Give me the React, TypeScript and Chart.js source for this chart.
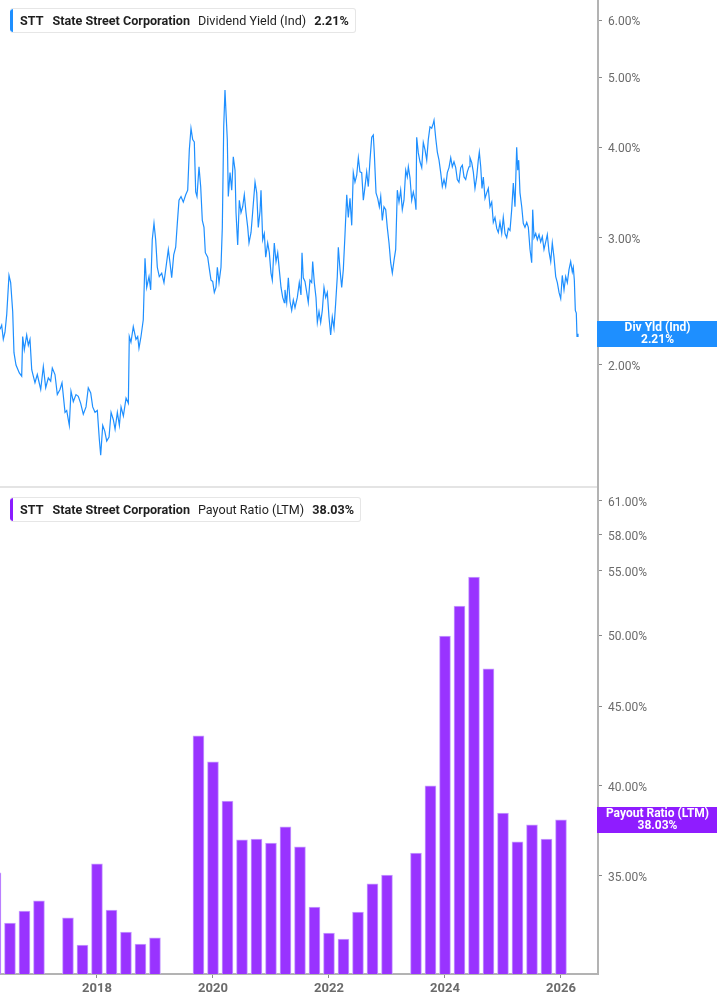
import React, { useEffect, useRef } from "react";
import { Chart, registerables } from "chart.js";

Chart.register(...registerables);

const FONT = "Roboto, 'Noto Sans', Arial, sans-serif";

// ---------- Data ----------
const ticker = "STT";
const companyName = "State Street Corporation";
const yieldLabel = "Dividend Yield (Ind)";
const payoutLabel = "Payout Ratio (LTM)";
const yieldBoxLines = ["Div Yld (Ind)", "2.21%"];
const payoutBoxLines = ["Payout Ratio (LTM)", "38.03%"];
const yieldLast = 2.21;
const payoutLast = 38.03;

const yieldDates = [
  2016.328, 2016.357, 2016.385, 2016.414, 2016.444, 2016.483, 2016.512, 2016.547, 2016.569, 2016.604,
  2016.661, 2016.702, 2016.719, 2016.747, 2016.788, 2016.816, 2016.845, 2016.875, 2016.902, 2016.931,
  2016.971, 2017.030, 2017.075, 2017.116, 2017.161, 2017.202, 2017.230, 2017.276, 2017.316, 2017.362,
  2017.397, 2017.449, 2017.478, 2017.523, 2017.552, 2017.592, 2017.638, 2017.678, 2017.719, 2017.764,
  2017.811, 2017.850, 2017.892, 2017.926, 2017.966, 2018.006, 2018.040, 2018.064, 2018.099, 2018.134,
  2018.168, 2018.208, 2018.243, 2018.282, 2018.312, 2018.351, 2018.386, 2018.415, 2018.455, 2018.501,
  2018.541, 2018.557, 2018.586, 2018.626, 2018.672, 2018.702, 2018.724, 2018.759, 2018.798, 2018.828,
  2018.857, 2018.897, 2018.926, 2018.953, 2018.983, 2019.012, 2019.040, 2019.074, 2019.116, 2019.155,
  2019.195, 2019.230, 2019.259, 2019.288, 2019.323, 2019.357, 2019.385, 2019.414, 2019.449, 2019.488,
  2019.530, 2019.564, 2019.592, 2019.621, 2019.650, 2019.678, 2019.702, 2019.724, 2019.759, 2019.788,
  2019.816, 2019.845, 2019.868, 2019.909, 2019.936, 2019.966, 2019.995, 2020.023, 2020.052, 2020.075,
  2020.104, 2020.138, 2020.161, 2020.185, 2020.207, 2020.225, 2020.247, 2020.264, 2020.294, 2020.323,
  2020.350, 2020.380, 2020.397, 2020.426, 2020.454, 2020.483, 2020.512, 2020.540, 2020.569, 2020.599,
  2020.621, 2020.656, 2020.685, 2020.725, 2020.754, 2020.781, 2020.811, 2020.828, 2020.857, 2020.885,
  2020.909, 2020.943, 2020.971, 2021.000, 2021.023, 2021.057, 2021.087, 2021.116, 2021.143, 2021.173,
  2021.202, 2021.230, 2021.241, 2021.271, 2021.299, 2021.328, 2021.357, 2021.385, 2021.414, 2021.454,
  2021.488, 2021.517, 2021.535, 2021.557, 2021.586, 2021.616, 2021.643, 2021.672, 2021.702, 2021.719,
  2021.747, 2021.776, 2021.799, 2021.828, 2021.857, 2021.885, 2021.914, 2021.943, 2021.971, 2022.000,
  2022.029, 2022.057, 2022.086, 2022.116, 2022.143, 2022.161, 2022.190, 2022.219, 2022.247, 2022.276,
  2022.306, 2022.333, 2022.362, 2022.392, 2022.419, 2022.448, 2022.478, 2022.506, 2022.534, 2022.564,
  2022.592, 2022.621, 2022.650, 2022.678, 2022.707, 2022.737, 2022.764, 2022.781, 2022.811, 2022.840,
  2022.868, 2022.892, 2022.919, 2022.948, 2022.978, 2023.005, 2023.035, 2023.064, 2023.092, 2023.121,
  2023.150, 2023.178, 2023.207, 2023.236, 2023.264, 2023.293, 2023.323, 2023.350, 2023.368, 2023.397,
  2023.426, 2023.454, 2023.483, 2023.500, 2023.512, 2023.540, 2023.569, 2023.599, 2023.626, 2023.655,
  2023.685, 2023.712, 2023.741, 2023.771, 2023.799, 2023.811, 2023.840, 2023.868, 2023.897, 2023.926,
  2023.954, 2023.983, 2024.012, 2024.040, 2024.069, 2024.099, 2024.126, 2024.155, 2024.185, 2024.212,
  2024.241, 2024.271, 2024.299, 2024.328, 2024.357, 2024.385, 2024.414, 2024.431, 2024.461, 2024.488,
  2024.517, 2024.547, 2024.574, 2024.592, 2024.616, 2024.638, 2024.661, 2024.690, 2024.719, 2024.747,
  2024.776, 2024.806, 2024.833, 2024.862, 2024.892, 2024.919, 2024.948, 2024.978, 2025.005, 2025.035,
  2025.064, 2025.092, 2025.121, 2025.150, 2025.178, 2025.207, 2025.236, 2025.254, 2025.271, 2025.293,
  2025.323, 2025.350, 2025.379, 2025.409, 2025.437, 2025.466, 2025.495, 2025.512, 2025.535, 2025.564,
  2025.592, 2025.621, 2025.650, 2025.678, 2025.707, 2025.737, 2025.764, 2025.793, 2025.823, 2025.850,
  2025.879, 2025.909, 2025.937, 2025.966, 2025.995, 2026.022, 2026.052, 2026.081, 2026.109, 2026.138,
  2026.167, 2026.195, 2026.212, 2026.230, 2026.247, 2026.264, 2026.276, 2026.293,
];

const yieldValues = [
  2.24, 2.27, 2.17, 2.22, 2.35, 2.66, 2.6, 2.37, 2.08, 2.0,
  1.95, 1.93, 2.19, 2.1, 2.2, 2.13, 2.17, 1.97, 1.93, 1.89,
  1.94, 1.85, 1.99, 1.86, 1.92, 1.9, 1.98, 1.94, 1.82, 1.85,
  1.89, 1.72, 1.73, 1.65, 1.84, 1.78, 1.82, 1.81, 1.77, 1.71,
  1.75, 1.86, 1.83, 1.75, 1.72, 1.73, 1.58, 1.5, 1.65, 1.62,
  1.57, 1.59, 1.72, 1.68, 1.63, 1.72, 1.65, 1.75, 1.7, 1.8,
  1.77, 2.19, 2.15, 2.26, 2.17, 2.19, 2.11, 2.19, 2.31, 2.81,
  2.56, 2.65, 2.54, 2.98, 3.14, 2.98, 2.73, 2.65, 2.68, 2.6,
  2.75, 2.89, 2.77, 2.64, 2.84, 2.91, 3.14, 3.38, 3.42, 3.36,
  3.44, 3.49, 3.97, 4.25, 4.1, 4.07, 3.47, 3.42, 3.76, 3.53,
  3.17, 3.1, 2.86, 2.82, 2.72, 2.62, 2.61, 2.52, 2.56, 2.73,
  2.6, 2.73, 3.1, 4.27, 4.8, 4.46, 4.1, 3.42, 3.69, 3.49,
  3.88, 3.72, 3.25, 2.93, 3.38, 3.25, 3.31, 3.44, 3.25, 3.1,
  2.95, 3.05, 3.26, 3.58, 3.46, 3.1, 3.26, 3.49, 2.98, 3.04,
  2.82, 2.95, 2.86, 2.68, 2.62, 2.95, 2.78, 2.86, 2.71, 2.56,
  2.48, 2.44, 2.54, 2.44, 2.64, 2.45, 2.38, 2.46, 2.4, 2.48,
  2.6, 2.5, 2.86, 2.64, 2.61, 2.52, 2.44, 2.62, 2.6, 2.78,
  2.6, 2.48, 2.29, 2.37, 2.29, 2.38, 2.56, 2.48, 2.52, 2.33,
  2.2, 2.33, 2.25, 2.44, 2.65, 2.91, 2.71, 2.56, 2.71, 3.03,
  3.44, 3.2, 3.4, 3.12, 3.69, 3.58, 3.66, 3.87, 3.7, 3.69,
  3.38, 3.53, 3.7, 3.53, 3.84, 4.13, 4.16, 3.93, 3.46, 3.4,
  3.31, 3.42, 3.17, 3.31, 3.28, 3.1, 2.95, 2.77, 2.68, 2.79,
  2.89, 3.49, 3.36, 3.49, 3.28, 3.38, 3.72, 3.64, 3.76, 3.63,
  3.38, 3.47, 3.38, 3.28, 4.13, 3.93, 3.82, 3.75, 4.06, 3.97,
  3.84, 4.1, 4.27, 4.25, 4.32, 4.36, 4.12, 3.94, 3.84, 3.69,
  3.53, 3.61, 3.53, 3.69, 3.75, 3.87, 3.76, 3.82, 3.75, 3.61,
  3.58, 3.75, 3.78, 3.64, 3.61, 3.7, 3.76, 3.87, 3.81, 3.7,
  3.51, 3.64, 3.84, 3.94, 3.76, 3.51, 3.64, 3.4, 3.46, 3.51,
  3.31, 3.36, 3.15, 3.2, 3.09, 3.05, 3.15, 3.04, 3.2, 3.04,
  3.0, 3.09, 3.07, 3.28, 3.57, 3.31, 4.0, 3.72, 3.84, 3.46,
  3.31, 3.14, 3.1, 3.15, 3.1, 2.89, 2.77, 3.28, 3.0, 3.04,
  2.98, 3.03, 2.96, 3.01, 2.89, 2.96, 3.03, 2.87, 2.78, 2.95,
  2.82, 2.65, 2.6, 2.52, 2.47, 2.66, 2.54, 2.65, 2.6, 2.71,
  2.78, 2.69, 2.73, 2.62, 2.38, 2.36, 2.19, 2.21,
];

const payoutDates = [
  2016.25, 2016.5, 2016.75, 2017.0, 2017.5, 2017.75, 2018.0, 2018.25, 2018.5, 2018.75,
  2019.0, 2019.75, 2020.0, 2020.25, 2020.5, 2020.75, 2021.0, 2021.25, 2021.5, 2021.75,
  2022.0, 2022.25, 2022.5, 2022.75, 2023.0, 2023.5, 2023.75, 2024.0, 2024.25, 2024.5,
  2024.75, 2025.0, 2025.25, 2025.5, 2025.75, 2026.0,
];

const payoutValues = [
  35.16, 32.64, 33.23, 33.73, 32.89, 31.6, 35.63, 33.28, 32.21, 31.64,
  31.93, 43.07, 41.44, 39.11, 36.92, 36.97, 36.75, 37.64, 36.54, 33.43,
  32.16, 31.88, 33.18, 34.59, 35.05, 36.21, 40.0, 49.94, 52.21, 54.5,
  47.57, 38.42, 36.81, 37.75, 36.97, 38.03,
];

const yieldTicks = [2, 3, 4, 5, 6];
const payoutTicks = [35, 40, 45, 50, 55, 58, 61];
const yearTicks = [2018, 2020, 2022, 2024, 2026];
const xRange = [2016.328, 2026.638];
const yieldRange = [1.356, 6.395];
const payoutRange = [30.27, 62.27];

// ---------- Styles ----------
const LINE_COLOR = "#1e8fff";
const BAR_COLOR = "#9933ff";
const BAR_EDGE = "#c9a2ff";
const PAYOUT_BOX = "#8f1cff";
const AXIS_COLOR = "#b3b3b3";
const TICK_TEXT = "#6b6b6b";
const AXIS_W = 119;

const valueBoxPlugin = {
  id: "valueBox",
  afterDraw(chart: any, _args: any, opts: any) {
    if (!opts || !opts.lines) return;
    const { ctx, chartArea, width } = chart;
    const y = chart.scales.y.getPixelForValue(opts.value);
    ctx.save();
    ctx.fillStyle = opts.color;
    ctx.fillRect(chartArea.right - 1, Math.round(y - 13), width - chartArea.right + 1, 26);
    ctx.fillStyle = "#ffffff";
    ctx.font = `bold 12px ${FONT}`;
    ctx.textAlign = "center";
    ctx.textBaseline = "middle";
    const cx = (chartArea.right + width) / 2;
    ctx.fillText(opts.lines[0], cx, y - 5.5);
    ctx.fillText(opts.lines[1], cx, y + 6);
    ctx.restore();
  },
};

function yAxis(range: number[], ticks: number[]) {
  return {
    type: "logarithmic",
    position: "right",
    min: range[0],
    max: range[1],
    bounds: "data",
    afterBuildTicks: (s: any) => {
      s.ticks = ticks.map((v) => ({ value: v }));
    },
    afterFit: (s: any) => {
      s.width = AXIS_W;
      s.paddingTop = 0;
      s.paddingBottom = 0;
    },
    ticks: {
      callback: (v: any) => Number(v).toFixed(2) + "%",
      font: { family: FONT, size: 12 },
      color: TICK_TEXT,
      padding: 6,
      labelOffset: 2,
      autoSkip: false,
    },
    grid: {
      drawOnChartArea: false,
      drawTicks: true,
      tickLength: 4,
      tickColor: "#8a8a8a",
      tickWidth: 1,
      offset: false,
    },
    border: { display: true, color: AXIS_COLOR, width: 2 },
  };
}

function LegendBox({ top, color, metric, value }: any) {
  return (
    <div
      style={{
        position: "absolute",
        left: 10,
        top,
        height: 25,
        boxSizing: "border-box",
        display: "flex",
        alignItems: "center",
        background: "#fff",
        border: "1px solid #e6e6e6",
        borderLeft: "none",
        borderRadius: 3,
        fontFamily: FONT,
        fontSize: 12.6,
        color: "#1f1f1f",
        whiteSpace: "nowrap",
        paddingRight: 6,
        overflow: "hidden",
      }}
    >
      <div style={{ width: 3, alignSelf: "stretch", background: color, borderRadius: "3px 0 0 3px" }} />
      <span style={{ fontWeight: 700, marginLeft: 7 }}>{ticker}</span>
      <span style={{ fontWeight: 700, marginLeft: 9 }}>{companyName}</span>
      <span style={{ marginLeft: 8 }}>{metric}</span>
      <span style={{ fontWeight: 700, marginLeft: 8 }}>{value}</span>
    </div>
  );
}

export default function App() {
  const topRef = useRef<HTMLCanvasElement>(null);
  const botRef = useRef<HTMLCanvasElement>(null);

  useEffect(() => {
    const top = new Chart(topRef.current as HTMLCanvasElement, {
      type: "line",
      data: {
        datasets: [
          {
            data: yieldDates.map((d, i) => ({ x: d, y: yieldValues[i] })),
            borderColor: LINE_COLOR,
            borderWidth: 1.2,
            pointRadius: 0,
            tension: 0,
            fill: false,
          },
        ],
      },
      options: {
        animation: false,
        responsive: false,
        events: [],
        layout: { padding: 0 },
        plugins: {
          legend: { display: false },
          tooltip: { enabled: false },
          valueBox: { lines: yieldBoxLines, value: yieldLast, color: LINE_COLOR },
        } as any,
        scales: {
          x: { type: "linear", min: xRange[0], max: xRange[1], display: false },
          y: yAxis(yieldRange, yieldTicks) as any,
        },
      },
      plugins: [valueBoxPlugin],
    } as any);

    const bot = new Chart(botRef.current as HTMLCanvasElement, {
      type: "bar",
      data: {
        datasets: [
          {
            data: payoutDates.map((d, i) => ({ x: d, y: payoutValues[i] })),
            backgroundColor: BAR_COLOR,
            borderColor: BAR_EDGE,
            borderWidth: { top: 1, left: 1, right: 1, bottom: 0 },
            borderSkipped: "bottom",
            barThickness: 11,
            base: payoutRange[0],
          },
        ],
      },
      options: {
        animation: false,
        responsive: false,
        events: [],
        layout: { padding: 0 },
        plugins: {
          legend: { display: false },
          tooltip: { enabled: false },
          valueBox: { lines: payoutBoxLines, value: payoutLast, color: PAYOUT_BOX },
        } as any,
        scales: {
          x: {
            type: "linear",
            min: xRange[0],
            max: xRange[1],
            offset: false,
            afterBuildTicks: (s: any) => {
              s.ticks = yearTicks.map((v) => ({ value: v }));
            },
            afterFit: (s: any) => {
              s.height = 31;
              s.paddingLeft = 0;
              s.paddingRight = 0;
            },
            ticks: {
              callback: (v: any) => String(v),
              font: { family: FONT, size: 13, weight: "bold" },
              color: TICK_TEXT,
              padding: 3,
              autoSkip: false,
              maxRotation: 0,
            },
            grid: {
              drawOnChartArea: false,
              drawTicks: true,
              tickLength: 4,
              tickColor: "#8a8a8a",
              offset: false,
            },
            border: { display: true, color: AXIS_COLOR, width: 2 },
          },
          y: yAxis(payoutRange, payoutTicks) as any,
        },
      },
      plugins: [valueBoxPlugin],
    } as any);

    return () => {
      top.destroy();
      bot.destroy();
    };
  }, []);

  return (
    <div
      style={{
        position: "absolute",
        left: 0,
        top: 0,
        width: 717,
        height: 1005,
        background: "#fff",
        overflow: "hidden",
      }}
    >
      <canvas
        ref={topRef}
        width={717}
        height={487}
        style={{ position: "absolute", left: 0, top: 0, width: 717, height: 487 }}
      />
      <canvas
        ref={botRef}
        width={717}
        height={518}
        style={{ position: "absolute", left: 0, top: 487, width: 717, height: 518 }}
      />
      <div
        style={{ position: "absolute", left: 0, top: 486, width: 597, height: 2, background: "#e4e4e4" }}
      />
      <LegendBox top={8} color={LINE_COLOR} metric={yieldLabel} value="2.21%" />
      <LegendBox top={497} color="#8a1cff" metric={payoutLabel} value="38.03%" />
    </div>
  );
}
